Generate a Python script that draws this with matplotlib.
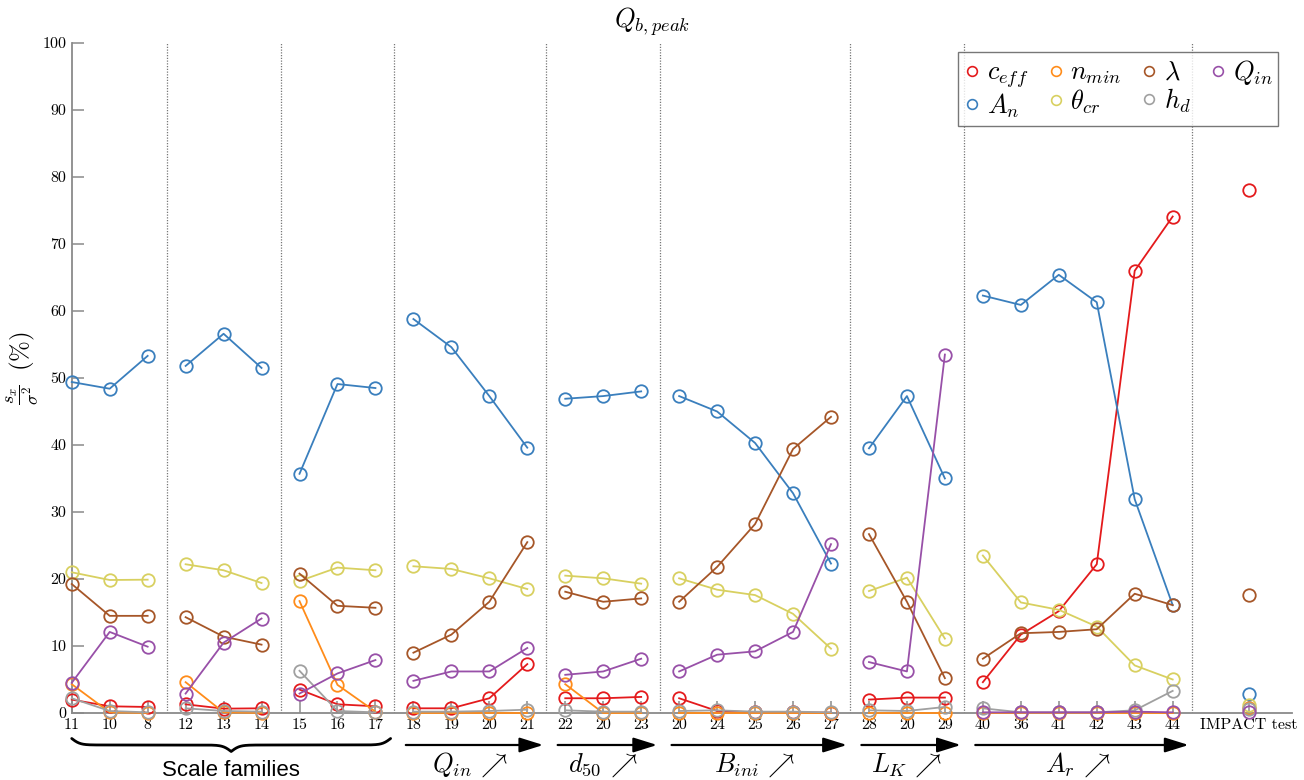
import numpy as np
import matplotlib
matplotlib.use('Agg')
import matplotlib.pyplot as plt
from matplotlib.lines import Line2D

plt.rcParams['mathtext.fontset'] = 'cm'
plt.rcParams['font.family'] = 'serif'
plt.rcParams['font.serif'] = ['cmr10', 'DejaVu Serif']
plt.rcParams['axes.formatter.use_mathtext'] = True

# run numbers shown under each point, one list per group
group_labels = [
    ['11', '10', '8'],
    ['12', '13', '14'],
    ['15', '16', '17'],
    ['18', '19', '20', '21'],
    ['22', '20', '23'],
    ['20', '24', '25', '26', '27'],
    ['28', '20', '29'],
    ['40', '36', '41', '42', '43', '44'],
    ['IMPACT test'],
]
group_names = [None, None, None, r'$Q_{in}\,\nearrow$', r'$d_{50}\,\nearrow$',
               r'$B_{ini}\,\nearrow$', r'$L_K\,\nearrow$', r'$A_r\,\nearrow$', None]

# sensitivity indices (%), same order as the flattened run labels
c_eff = [2.0, 1.0, 0.9, 1.3, 0.65, 0.7, 3.5, 1.3, 1.0,
         0.7, 0.7, 2.2, 7.3, 2.2, 2.2, 2.4,
         2.2, 0.3, 0.1, 0.1, 0.05, 2.0, 2.3, 2.3,
         4.6, 11.7, 15.2, 22.2, 66.0, 74.1, 78.1]
A_n = [49.4, 48.4, 53.3, 51.8, 56.6, 51.5, 35.7, 49.1, 48.5,
       58.8, 54.6, 47.3, 39.6, 46.9, 47.3, 48.0,
       47.3, 45.0, 40.3, 32.8, 22.3, 39.5, 47.3, 35.0,
       62.3, 60.9, 65.4, 61.3, 31.9, 16.1, 2.8]
n_min = [4.3, 0.1, 0.0, 4.6, 0.1, 0.0, 16.7, 4.2, 0.2,
         0.0, 0.0, 0.0, 0.0, 4.3, 0.0, 0.0,
         0.0, 0.0, 0.0, 0.0, 0.0, 0.0, 0.0, 0.0,
         0.0, 0.0, 0.0, 0.0, 0.0, 0.0, 0.8]
theta_cr = [21.0, 19.85, 19.9, 22.2, 21.3, 19.4, 19.7, 21.7, 21.3,
            21.9, 21.5, 20.1, 18.5, 20.5, 20.1, 19.3,
            20.1, 18.4, 17.6, 14.8, 9.6, 18.2, 20.2, 11.1,
            23.5, 16.5, 15.4, 12.9, 7.1, 5.0, 1.2]
lam = [19.25, 14.5, 14.5, 14.3, 11.4, 10.2, 20.8, 16.0, 15.7,
       9.0, 11.7, 16.6, 25.5, 18.1, 16.6, 17.1,
       16.6, 21.8, 28.2, 39.4, 44.2, 26.7, 16.6, 5.2,
       8.1, 11.9, 12.1, 12.5, 17.8, 16.1, 17.6]
h_d = [2.2, 0.3, 0.1, 0.7, 0.3, 0.2, 6.3, 0.3, 0.1,
       0.2, 0.2, 0.3, 0.5, 0.4, 0.2, 0.2,
       0.3, 0.4, 0.2, 0.2, 0.1, 0.4, 0.3, 0.9,
       0.7, 0.1, 0.1, 0.1, 0.4, 3.3, 0.6]
Q_in = [4.5, 12.1, 9.9, 2.9, 10.5, 14.1, 2.9, 5.9, 7.9,
        4.8, 6.2, 6.2, 9.7, 5.7, 6.2, 8.1,
        6.2, 8.7, 9.2, 12.1, 25.2, 7.6, 6.2, 53.5,
        0.1, 0.1, 0.1, 0.1, 0.2, 0.1, 0.1]

series = [
    (r'$c_{eff}$', c_eff, '#e41a1c'),
    (r'$A_n$', A_n, '#3a7fbd'),
    (r'$n_{min}$', n_min, '#ff8c1a'),
    (r'$\theta_{cr}$', theta_cr, '#d8d060'),
    (r'$\lambda$', lam, '#a65628'),
    (r'$h_d$', h_d, '#a0a0a0'),
    (r'$Q_{in}$', Q_in, '#9850a8'),
]

# x positions: consecutive runs, one empty slot before the IMPACT test
groups = []
x = 1
for i, labs in enumerate(group_labels):
    if i == len(group_labels) - 1:
        x += 1
    groups.append(list(range(x, x + len(labs))))
    x += len(labs)
xpos = [p for g in groups for p in g]
xlabels = [l for labs in group_labels for l in labs]

fig = plt.figure(figsize=(13.04, 7.8), dpi=100)
ax = fig.add_axes([0.055, 0.0859, 0.936, 0.859])

axis_gray = '#8a8a8a'
for g in groups[:-1]:
    ax.axvline(g[-1] + 0.5, color='#777777', ls=(0, (1, 1.2)), lw=0.9, zorder=1)

for name, vals, col in series:
    start = 0
    for g in groups:
        seg = vals[start:start + len(g)]
        ax.plot(g, seg, color=col, lw=1.3, marker='o', ms=9, mfc='none',
                mec=col, mew=1.3, zorder=3, clip_on=False)
        start += len(g)

ax.set_xlim(1, 33.15)
ax.set_ylim(0, 100)
ax.set_xticks(xpos)
ax.set_xticklabels(xlabels, fontsize=11.5)
ax.set_yticks(np.arange(0, 101, 10))
ax.set_yticklabels([str(v) for v in range(0, 101, 10)], fontsize=11.5)
ax.tick_params(direction='in', length=8.5, width=1.1, color=axis_gray, pad=4)
for s in ['top', 'right']:
    ax.spines[s].set_visible(False)
for s in ['left', 'bottom']:
    ax.spines[s].set_color(axis_gray)
    ax.spines[s].set_linewidth(1.3)

# legend with markers only
handles = [Line2D([], [], ls='none', marker='o', ms=7, mfc='none', mec=col, mew=1.2)
           for _, _, col in series]
labels = [name for name, _, _ in series]
leg = ax.legend(handles, labels, ncol=4, loc='upper right', bbox_to_anchor=(0.9885, 0.9866),
                borderaxespad=0, fontsize=19, frameon=True, fancybox=False,
                edgecolor='#555555', handlelength=0.6, handletextpad=0.25,
                columnspacing=0.75, labelspacing=0.05, borderpad=0.22)
leg.get_frame().set_linewidth(1.0)

# annotations below the axis
trans = ax.get_xaxis_transform()
def px_to_ax(py):
    return (713 - py) / 670.0

for g, name in zip(groups, group_names):
    if name is None:
        continue
    ax.annotate('', xy=(g[-1] + 0.42, px_to_ax(745)), xytext=(g[0] - 0.2, px_to_ax(745)),
                xycoords=trans, textcoords=trans,
                arrowprops=dict(arrowstyle='-|>,head_length=0.8,head_width=0.25',
                                color='k', lw=1.6, mutation_scale=18, shrinkA=0, shrinkB=0))
    ax.text((g[0] + g[-1]) / 2, px_to_ax(779), name, transform=trans,
            ha='center', va='bottom', fontsize=19)

# curly brace under the scale families
x0, x1 = groups[0][0], groups[2][-1] + 0.4
bx = np.linspace(x0, x1, 601)
beta = 9.0
mid = (x0 + x1) / 2
half = bx[bx <= mid]
yh = 1 / (1 + np.exp(-beta * (half - x0))) + 1 / (1 + np.exp(-beta * (half - mid)))
by = np.concatenate([yh, yh[::-1][1:]])
bx = np.concatenate([half, (2 * mid - half)[::-1][1:]])
by_px = 732 + 13 * by
ax.plot(bx, px_to_ax(by_px), color='k', lw=2.0, transform=trans, clip_on=False,
        solid_capstyle='round')
ax.text(mid, px_to_ax(776), 'Scale families', transform=trans, ha='center', va='baseline',
        fontsize=16, family='Liberation Sans')

fig.text(0.5, 1 - 22 / 780, r'$Q_{b,peak}$', ha='center', va='center', fontsize=19)
fig.text(22 / 1304, 1 - 395 / 780, r'$\dfrac{s_x}{\sigma^2}$', rotation=90,
         ha='center', va='center', fontsize=13)
fig.text(22 / 1304, 1 - 351 / 780, r'$(\%)$', rotation=90,
         ha='center', va='center', fontsize=18)

fig.savefig('out.png', dpi=100)
